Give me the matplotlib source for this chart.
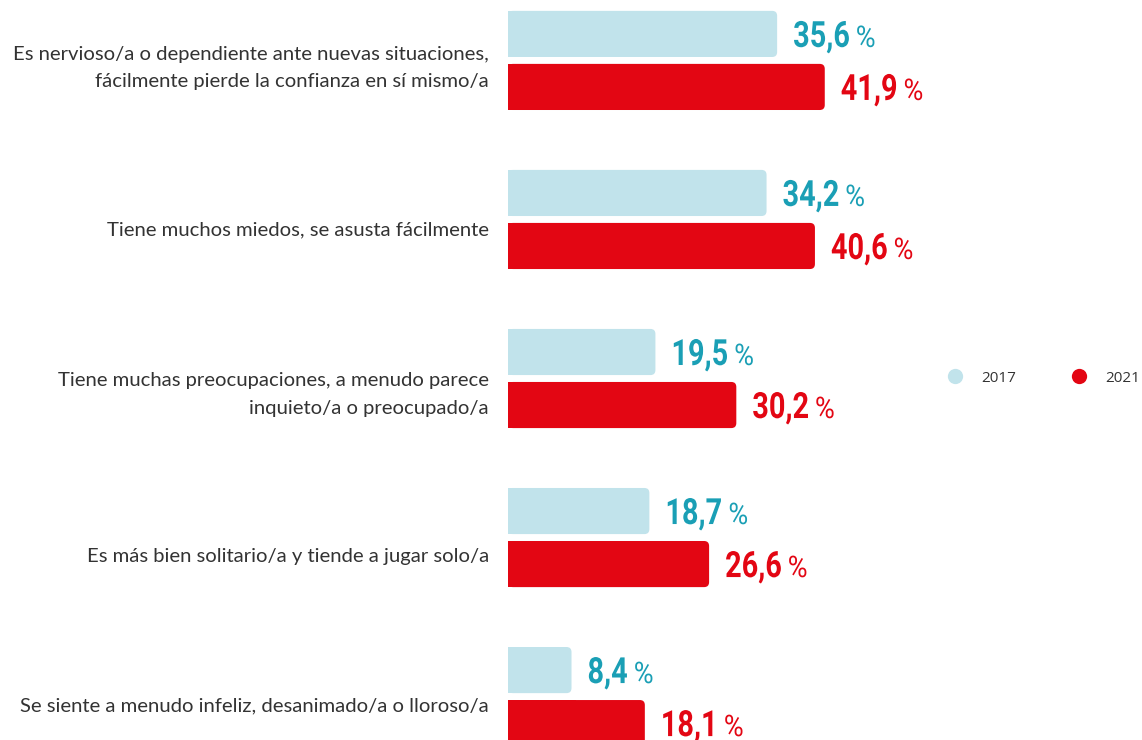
import matplotlib
matplotlib.use("Agg")
import matplotlib.pyplot as plt
from matplotlib.patches import FancyBboxPatch
from matplotlib.lines import Line2D
from matplotlib.patheffects import AbstractPathEffect
from matplotlib.transforms import Affine2D

categories = [
    "Es nervioso/a o dependiente ante nuevas situaciones,\nfácilmente pierde la confianza en sí mismo/a",
    "Tiene muchos miedos, se asusta fácilmente",
    "Tiene muchas preocupaciones, a menudo parece\ninquieto/a o preocupado/a",
    "Es más bien solitario/a y tiende a jugar solo/a",
    "Se siente a menudo infeliz, desanimado/a o lloroso/a",
]
values_2017 = [35.6, 34.2, 19.5, 18.7, 8.4]
values_2021 = [41.9, 40.6, 30.2, 26.6, 18.1]
series_names = ["2017", "2021"]

BAR_COLORS = ["#c1e3eb", "#e30613"]
TEXT_COLORS = ["#1a9fb5", "#e30613"]
LABEL_COLOR = "#333333"
# small vertical nudges (px, downwards) of the category labels, as in the original layout
LABEL_NUDGE = [0, 2, 8, 11, 1]


class Stretch(AbstractPathEffect):
    # no condensed font installed: draw a narrower font stretched upwards
    def __init__(self, sy):
        super().__init__()
        self.sy = sy

    def draw_path(self, renderer, gc, tpath, affine, rgbFace=None):
        renderer.draw_path(gc, tpath, Affine2D().scale(1, self.sy) + affine, rgbFace)


W, H = 1142, 740
fig = plt.figure(figsize=(W / 100, H / 100), dpi=100)
ax = fig.add_axes([508 / W, 0, (W - 508) / W, 1])
ax.set_xlim(0, (W - 508) / 7.56)
ax.set_ylim(4.273, -0.380)
ax.axis("off")

bar_h = 0.29
offsets = [-0.1667, 0.1667]
fig.canvas.draw()
renderer = fig.canvas.get_renderer()

px_x = 1 / 7.56
px_y = 1 / 159.0

for s, vals in enumerate([values_2017, values_2021]):
    for i, v in enumerate(vals):
        y = i + offsets[s]
        patch = FancyBboxPatch((0, y - bar_h / 2), v, bar_h,
                               boxstyle=f"round,pad=0,rounding_size={5 * px_x}",
                               mutation_aspect=px_y / px_x,
                               facecolor=BAR_COLORS[s], edgecolor="none")
        ax.add_patch(patch)
        # keep the left edge square
        ax.barh(y, v * 0.5, height=bar_h, color=BAR_COLORS[s])
        t = ax.annotate(f"{v:.1f}".replace(".", ","), xy=(v, y), xytext=(16, -13),
                        textcoords="offset pixels", va="baseline", ha="left",
                        fontsize=20.8, fontweight="bold", family="Roboto",
                        color=TEXT_COLORS[s], path_effects=[Stretch(1.25)])
        bb = t.get_window_extent(renderer)
        xd = ax.transData.inverted().transform((bb.x1 + 6, 0))[0]
        ax.annotate("%", xy=(xd, y), xytext=(0, -13), textcoords="offset pixels",
                    va="baseline", ha="left", fontsize=19.5, family="Roboto",
                    color=TEXT_COLORS[s], path_effects=[Stretch(1.1)])

for i, cat in enumerate(categories):
    ax.annotate(cat, xy=(0, i + 0.05), xytext=(-19, -LABEL_NUDGE[i]),
                textcoords="offset pixels", ha="right", va="center",
                fontsize=14.6, family="Lato", color=LABEL_COLOR,
                linespacing=1.72, annotation_clip=False)

handles = [Line2D([], [], marker="o", linestyle="none", markersize=11,
                  markerfacecolor=c, markeredgecolor="none") for c in BAR_COLORS]
leg = fig.legend(handles, series_names, loc="center left",
                 bbox_to_anchor=(934 / W, 1 - 378 / H), ncol=2, frameon=False,
                 handletextpad=0.7, columnspacing=3.1, borderaxespad=0,
                 prop={"family": "Open Sans", "size": 11})
for txt in leg.get_texts():
    txt.set_color(LABEL_COLOR)

fig.savefig("out.png", dpi=100)
